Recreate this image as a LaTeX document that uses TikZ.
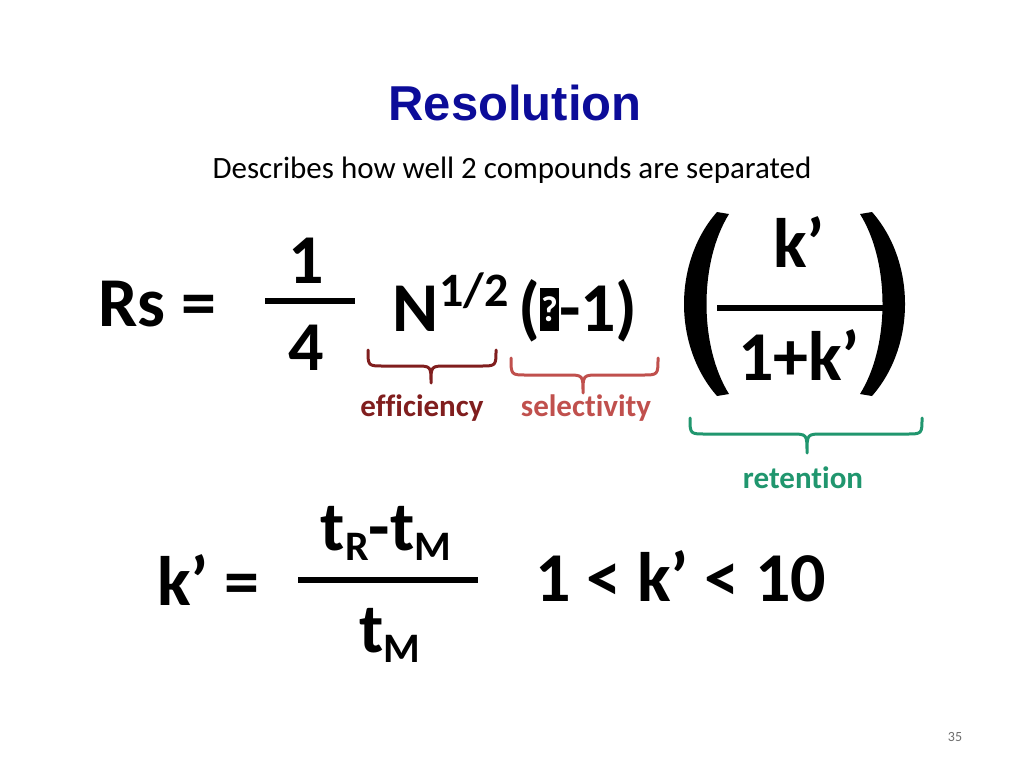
\documentclass[tikz,border=0pt]{standalone}
\usepackage{fontspec}
\setmainfont[Ligatures={NoCommon}]{Carlito}
\newfontfamily\titlefont{Liberation Sans}
\definecolor{titleblue}{RGB}{12,12,153}
\definecolor{effred}{RGB}{128,30,30}
\definecolor{selred}{RGB}{192,80,77}
\definecolor{retgreen}{RGB}{32,150,110}
\definecolor{pagegray}{RGB}{110,110,110}
\newcommand{\missingglyph}{{\setlength{\fboxsep}{0pt}\colorbox{black}{\parbox[b][43pt][c]{19pt}{\centering\color{white}\fontsize{36}{36}\selectfont ?}}}}
\newcommand{\lowsub}[1]{\raisebox{-10pt}{\fontsize{42}{42}\selectfont #1}}
\tikzset{
  big/.style={font=\fontsize{70}{70}\selectfont\bfseries, inner sep=0pt, anchor=base west},
  bigc/.style={big, anchor=base},
  supstyle/.style={font=\fontsize{48}{48}\selectfont\bfseries, inner sep=0pt, anchor=base west},
  fracbar/.style={line width=6pt},
  bracestyle/.style={line width=3pt, line cap=round, line join=round},
  lab/.style={font=\fontsize{31}{31}\selectfont\bfseries, inner sep=0pt, anchor=base},
}
\begin{document}
\begin{tikzpicture}[x=1pt,y=-1pt]
\useasboundingbox[fill=white] (0,0) rectangle (1024,768);
% title
\node[font=\titlefont\bfseries\fontsize{49}{49}\selectfont, text=titleblue, inner sep=0pt, anchor=base] (title) at (515,120) {Resolution};
\node[font=\fontsize{31}{31}\selectfont, inner sep=0pt, anchor=base] (sub) at (512,178) {Describes how well 2 compounds are separated};
% Rs equation
\node[big] (rs) at (98,326) {Rs =};
\node[bigc] (one) at (306,283) {1};
\coordinate (b1l) at (265,301); \coordinate (b1r) at (355,301);
\draw[fracbar] (b1l) -- (b1r);
\node[bigc] (four) at (306,370) {4};
\node[big] (N) at (392,331) {N};
\node[supstyle] (half) at (439,306) {1/2};
\node[big] (sel) at (518,331) {(\missingglyph-1)};
% big parentheses
\fill (717,212) .. controls (673,262) and (673,346) .. (717,396) -- (729,394) .. controls (699,346) and (699,262) .. (729,214) -- cycle;
\fill (872,212) .. controls (916,262) and (916,346) .. (872,396) -- (860,394) .. controls (890,346) and (890,262) .. (860,214) -- cycle;
\node[bigc] (knum) at (799,267) {k’};
\coordinate (b2l) at (717,308); \coordinate (b2r) at (887,308);
\draw[fracbar] (b2l) -- (b2r);
\node[bigc] (kden) at (799,380) {1+k’};
% braces
\draw[bracestyle, effred] (368,350) .. controls (368,366) .. (384,366) -- (415,366) .. controls (431,366) .. (431,383) .. controls (431,366) .. (447,366) -- (480,366) .. controls (496,366) .. (496,350);
\node[lab, text=effred] (eff) at (422,416) {efficiency};
\draw[bracestyle, selred] (511,358) .. controls (511,375) .. (527,375) -- (567,375) .. controls (583,375) .. (583,393) .. controls (583,375) .. (599,375) -- (642,375) .. controls (658,375) .. (658,358);
\node[lab, text=selred] (selab) at (586,416) {selectivity};
\draw[bracestyle, retgreen] (690,418) .. controls (690,434) .. (706,434) -- (791,434) .. controls (807,434) .. (807,453) .. controls (807,434) .. (823,434) -- (906,434) .. controls (922,434) .. (922,418);
\node[lab, text=retgreen] (ret) at (803,488) {retention};
% k' equation
\node[big] (kp) at (157,605) {k’ =};
\node[bigc] (tnum) at (386,550) {t\lowsub{R}-t\lowsub{M}};
\coordinate (b3l) at (298,580); \coordinate (b3r) at (478,580);
\draw[fracbar] (b3l) -- (b3r);
\node[bigc] (tden) at (390,652) {t\lowsub{M}};
\node[big] (range) at (535,601) {1 < k’ < 10};
\node[font=\fontsize{14}{14}\selectfont, text=pagegray, inner sep=0pt, anchor=base] (page) at (955,741) {35};
\end{tikzpicture}
\end{document}
